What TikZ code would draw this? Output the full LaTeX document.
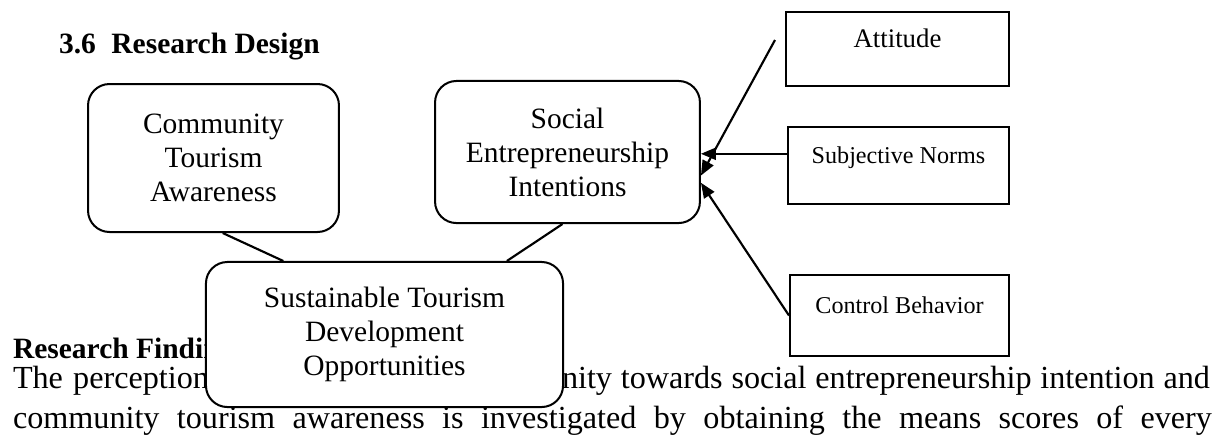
\documentclass[tikz,border=0pt]{standalone}
\usepackage{fontspec}
\setmainfont{Liberation Serif}
\usetikzlibrary{arrows.meta}

\tikzset{every picture/.style={line width=0.75pt}}
\tikzset{
  roundbox/.style={draw, rounded corners=8pt, align=center, inner sep=0.75pt, font=\fontsize{11}{12.7}\selectfont},
  factorbox/.style={draw, inner sep=0.75pt, text height=6.5pt, text depth=8pt},
  link/.style={line width=0.8pt},
  arrowlink/.style={line width=0.8pt, -{Triangle[length=5.6pt,width=4.5pt]}},
  bodytext/.style={inner sep=0pt, font=\fontsize{12}{15.3}\selectfont}
}

\begin{document}
\begin{tikzpicture}[x=0.373pt,y=0.373pt,yscale=-1,xscale=1]
    \useasboundingbox (0,0) rectangle (1225,439);

    % Text Node
    \node (head) [anchor=base west, inner sep=0pt, font=\bfseries\fontsize{11}{12.7}\selectfont] at (58,53) {3.6\hspace{5.8pt}Research Design};
    % Text Node
    \node (findings) [anchor=base west, inner sep=0pt, font=\bfseries\fontsize{11}{12.7}\selectfont] at (12,358) {Research Findings};
    % Text Node
    \node (lineaa) [bodytext, anchor=base west] at (12,388) {\makebox[73.1pt][s]{The perception}};
    % Text Node
    \node (lineab) [bodytext, anchor=base east] at (1211,388) {\makebox[241.7pt][s]{nity towards social entrepreneurship intention and}};
    % Text Node
    \node (lineb) [bodytext, anchor=base west] at (12,428) {\makebox[447.2pt][s]{community tourism awareness is investigated by obtaining the means scores of every}};

    %Rounded Rect
    \node (cta) [roundbox, minimum width=93.6pt, minimum height=55.2pt] at (213.5,158) {Community\\Tourism\\Awareness};
    %Rounded Rect
    \node (sei) [roundbox, minimum width=98.8pt, minimum height=53pt] at (567.5,152) {Social\\Entrepreneurship\\Intentions};
    %Rounded Rect
    \node (sto) [roundbox, fill=white, minimum width=133.2pt, minimum height=54.1pt] at (384.5,334.5) {Sustainable Tourism\\Development\\Opportunities};

    %Shape: Rectangle
    \node (att) [factorbox, minimum width=83.2pt, minimum height=27.6pt, font=\fontsize{10}{11.5}\selectfont] at (897.5,49) {Attitude};
    %Shape: Rectangle
    \node (sn) [factorbox, minimum width=82.4pt, minimum height=28.7pt, font=\fontsize{9}{10.4}\selectfont] at (898.5,165.5) {Subjective Norms};
    %Shape: Rectangle
    \node (ctl) [factorbox, minimum width=81.7pt, minimum height=30.2pt, font=\fontsize{9}{10.4}\selectfont] at (899.5,315.5) {Control Behavior};

    %Straight Lines
    \draw [link] (cta.-83) -- (sto.144);
    %Straight Lines
    \draw [link] (sei.-94) -- (sto.31);

    %Straight Lines
    \coordinate (attend) at (775,40);
    \draw [arrowlink] (attend) -- (sei.-10);
    %Straight Lines
    \draw [arrowlink] (sn.174) -- (sn.174 -| sei.east);
    %Straight Lines
    \draw [arrowlink] (ctl.west) -- (sei.-13);

\end{tikzpicture}
\end{document}
